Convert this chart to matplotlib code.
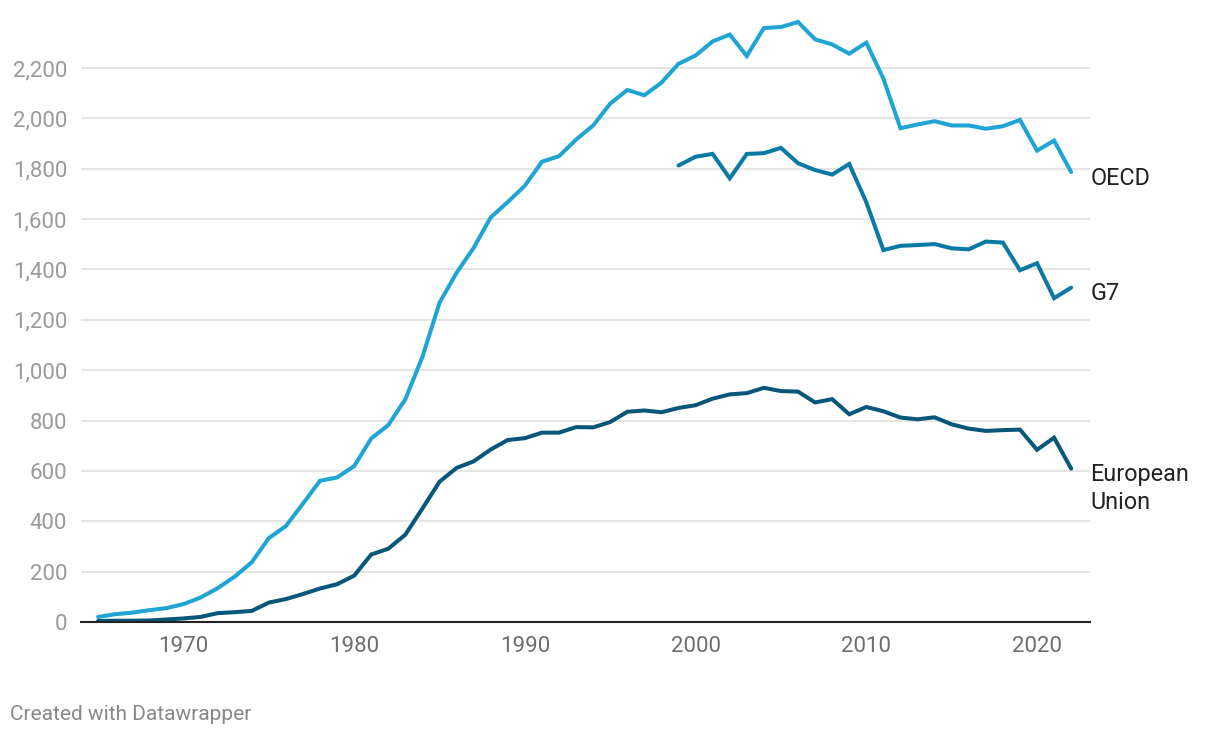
import numpy as np
import matplotlib as mpl
mpl.use('Agg')
from matplotlib import pyplot as plt
from matplotlib.ticker import FuncFormatter

years = list(range(1965, 2023))

oecd = [20, 31, 37, 47, 55, 71, 97, 134, 180, 237,
        333, 381, 470, 561, 574, 619, 729, 782, 885, 1053,
        1268, 1387, 1486, 1607, 1668, 1733, 1828, 1850, 1916, 1972,
        2059, 2113, 2092, 2142, 2217, 2250, 2306, 2333, 2248, 2359,
        2363, 2383, 2314, 2294, 2257, 2301, 2158, 1961, 1976, 1989,
        1972, 1972, 1959, 1969, 1994, 1872, 1912, 1787]

g7_years = list(range(1999, 2023))
g7 = [1813, 1848, 1859, 1762, 1859, 1862, 1883, 1822, 1795, 1777,
      1819, 1667, 1477, 1494, 1497, 1501, 1484, 1480, 1511, 1507,
      1397, 1425, 1286, 1328]

eu = [4, 5, 5, 6, 10, 14, 20, 35, 39, 44,
      77, 91, 111, 133, 150, 184, 268, 291, 347, 451,
      557, 612, 638, 685, 723, 730, 752, 752, 774, 773,
      794, 835, 840, 833, 850, 861, 887, 904, 909, 930,
      917, 915, 872, 885, 825, 854, 837, 812, 805, 813,
      785, 768, 759, 762, 764, 684, 732, 609]

series = [
    ("OECD", years, oecd, "#1fa4d4"),
    ("G7", g7_years, g7, "#0a7aa4"),
    ("European\nUnion", years, eu, "#09567b"),
]


def draw_plot():
    plt.rcParams['font.family'] = ['Roboto', 'DejaVu Sans']
    fig = plt.figure(figsize=(12.2, 7.38), dpi=100)
    ax = fig.add_axes([0.0664, 0.1572, 0.8270, 0.8188])

    for name, x, y, color in series:
        ax.plot(x, y, color=color, lw=2.9, solid_capstyle='round',
                solid_joinstyle='miter', zorder=3)
        if "\n" in name:
            ax.annotate(name, xy=(x[-1], y[-1]), xytext=(14, 4),
                        textcoords='offset points', va='top', ha='left',
                        fontsize=16.8, color='#222222', linespacing=1.3)
        else:
            ax.annotate(name, xy=(x[-1], y[-1]), xytext=(14, -4.5),
                        textcoords='offset points', va='center', ha='left',
                        fontsize=16.8, color='#222222')

    ax.set_xlim(1964.0, 2023.1)
    ax.set_ylim(0, 2400)
    ax.set_yticks(range(0, 2201, 200))
    ax.set_xticks(range(1970, 2021, 10))
    ax.yaxis.set_major_formatter(FuncFormatter(lambda v, p: f"{int(v):,}"))

    ax.grid(axis='y', color='#e3e3e3', lw=1.3, zorder=0)
    for s in ['top', 'right', 'left']:
        ax.spines[s].set_visible(False)
    ax.spines['bottom'].set_color('#222222')
    ax.spines['bottom'].set_linewidth(1.5)
    ax.spines['bottom'].set_zorder(4)

    ax.tick_params(axis='y', length=0, pad=10, labelsize=16, labelcolor='#9a9a9a')
    ax.tick_params(axis='x', length=0, pad=10, labelsize=16, labelcolor='#6e6e6e')

    fig.text(10 / 1220, 1 - 714 / 738, "Created with Datawrapper",
             fontsize=15, color='#888888', va='center', ha='left')

    fig.savefig('out.png', dpi=100)


if __name__ == '__main__':
    draw_plot()
